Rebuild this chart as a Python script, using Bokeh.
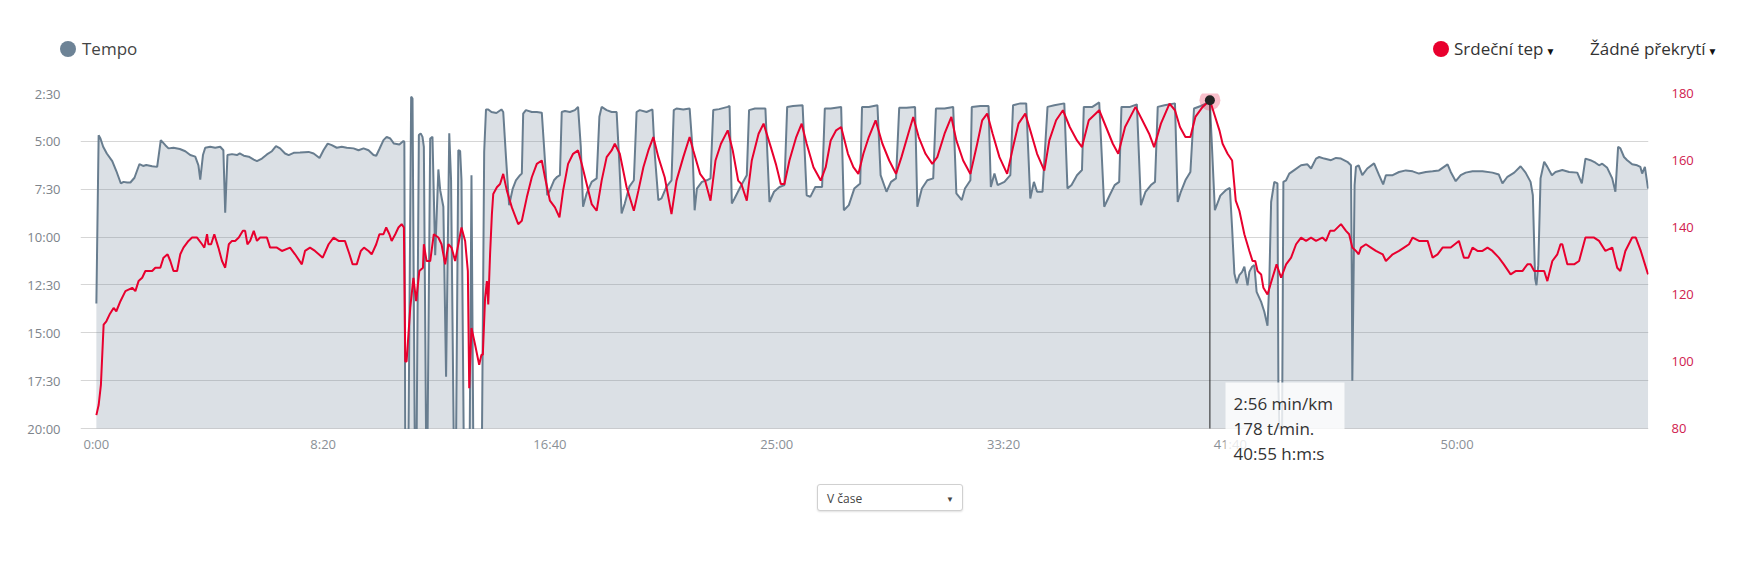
from bokeh.plotting import figure
from bokeh.layouts import column
from bokeh.models import Range1d, LinearAxis, FixedTicker, Label, Div
from bokeh.core.properties import value
from bokeh.embed import file_html
from bokeh.resources import INLINE

# ---------------- data ----------------
# pace series: elapsed time [s], pace [s per km]  (values > 1200 run off the axis)
time_s = [0, 5, 9, 15, 23, 35, 44, 54, 60, 68, 75, 84, 95, 103, 110, 123, 134, 142, 152, 159,
          170, 184, 196, 207, 218, 225, 229, 235, 240, 251, 262, 273, 280, 284, 289, 299, 310, 316,
          325, 336, 347, 354, 365, 376, 387, 396, 405, 416, 424, 435, 449, 468, 479, 492, 501, 510,
          519, 530, 541, 552, 567, 578, 589, 600, 611, 617, 624, 633, 640, 648, 656, 668, 677, 679,
          681, 686, 688, 694, 697, 702, 706, 711, 715, 719, 722, 727, 730, 736, 741, 747, 754, 758,
          765, 771, 778, 782, 788, 793, 798, 802, 805, 810, 823, 827, 831, 850, 855, 859, 864, 871,
          882, 893, 897, 903, 910, 918, 925, 934, 938, 941, 947, 960, 971, 982, 987, 994, 1000, 1009,
          1016, 1022, 1026, 1033, 1044, 1055, 1062, 1068, 1073, 1081, 1092, 1103, 1109, 1114, 1125,
          1136, 1147, 1153, 1158, 1165, 1175, 1185, 1191, 1198, 1213, 1226, 1231, 1239, 1246, 1257,
          1268, 1273, 1279, 1294, 1308, 1314, 1319, 1324, 1335, 1346, 1354, 1360, 1373, 1392, 1396,
          1401, 1407, 1422, 1434, 1439, 1452, 1475, 1484, 1494, 1506, 1517, 1523, 1536, 1557, 1566,
          1574, 1585, 1600, 1606, 1619, 1642, 1648, 1659, 1671, 1684, 1688, 1703, 1722, 1729, 1742,
          1752, 1763, 1770, 1786, 1805, 1810, 1820, 1832, 1845, 1851, 1870, 1889, 1896, 1908, 1915,
          1927, 1930, 1949, 1967, 1972, 1980, 1987, 2002, 2015, 2021, 2037, 2050, 2059, 2067, 2074,
          2086, 2097, 2112, 2134, 2141, 2150, 2162, 2173, 2177, 2196, 2211, 2222, 2234, 2245, 2255,
          2260, 2279, 2294, 2303, 2313, 2325, 2334, 2340, 2355, 2378, 2384, 2391, 2401, 2412, 2420,
          2435, 2455, 2466, 2478, 2490, 2499, 2504, 2509, 2514, 2520, 2526, 2531, 2534, 2538, 2542,
          2548, 2553, 2558, 2568, 2575, 2582, 2586, 2590, 2597, 2604, 2606, 2609, 2614, 2617, 2623,
          2630, 2641, 2656, 2670, 2678, 2689, 2696, 2707, 2722, 2733, 2744, 2758, 2766, 2768, 2769,
          2772, 2774, 2777, 2783, 2791, 2802, 2817, 2828, 2837, 2843, 2858, 2872, 2887, 2902, 2916,
          2931, 2946, 2960, 2979, 2986, 2997, 3008, 3019, 3034, 3056, 3078, 3092, 3100, 3111, 3126,
          3140, 3151, 3162, 3167, 3172, 3175, 3179, 3184, 3192, 3199, 3209, 3217, 3232, 3247, 3265,
          3275, 3283, 3294, 3305, 3313, 3320, 3331, 3342, 3349, 3355, 3360, 3368, 3375, 3386, 3397,
          3404, 3408, 3414, 3421]
pace_s = [808, 281, 291, 317, 338, 362, 393, 432, 427, 429, 429, 414, 371, 377, 374, 378, 380, 296, 312, 322,
          320, 324, 331, 343, 348, 375, 420, 343, 320, 317, 320, 317, 328, 524, 343, 340, 343, 338,
          345, 348, 357, 362, 354, 341, 331, 315, 322, 338, 343, 336, 335, 333, 338, 352, 327, 307,
          312, 320, 317, 320, 322, 328, 322, 328, 343, 345, 324, 296, 286, 291, 307, 310, 299, 302,
          1250, 1250, 1250, 160, 166, 1250, 1250, 280, 275, 286, 317, 1250, 1250, 291, 286, 657, 388, 453,
          505, 1038, 275, 422, 1250, 1250, 328, 330, 422, 1250, 1250, 406, 1250, 1250, 333, 200, 200, 208,
          211, 200, 208, 348, 500, 448, 422, 406, 401, 213, 202, 208, 208, 210, 317, 469, 453, 422,
          411, 406, 208, 205, 208, 202, 192, 317, 505, 463, 427, 416, 223, 192, 202,
          208, 208, 369, 526, 495, 442, 422, 208, 202, 208, 200, 338, 484, 479, 442,
          422, 202, 197, 200, 197, 317, 516, 448, 427, 422, 416, 202, 199, 192, 189,
          495, 479, 437, 406, 202, 197, 197, 490, 458, 443, 437, 192, 189, 187, 469,
          474, 443, 443, 197, 197, 192, 516, 500, 448, 432, 192, 192, 187, 406, 458,
          427, 416, 195, 195, 192, 505, 448, 422, 416, 197, 197, 192, 463, 484, 448,
          422, 192, 189, 189, 443, 401, 437, 427, 406, 187, 181, 181, 479, 427, 458,
          458, 192, 187, 181, 448, 437, 406, 390, 192, 192, 178, 505, 469, 437, 427,
          192, 192, 184, 500, 458, 437, 427, 192, 187, 181, 490, 458, 422, 396, 197,
          189, 176, 516, 470, 453, 446, 573, 714, 745, 719, 709, 693, 719, 751, 709,
          693, 688, 772, 803, 834, 878, 740, 490, 427, 432, 1054, 1250, 1250, 427, 422,
          401, 390, 375, 372, 385, 354, 349, 354, 359, 352, 354, 364, 375, 751, 1050,
          698, 437, 380, 375, 406, 385, 369, 406, 435, 406, 406, 396, 391, 394, 401,
          396, 394, 391, 372, 396, 425, 406, 398, 394, 394, 398, 404, 432, 411, 398,
          378, 398, 427, 469, 730, 751, 688, 416, 364, 380, 406, 396, 390, 396, 398,
          432, 354, 359, 367, 375, 370, 383, 416, 458, 317, 322, 349, 359, 372, 375,
          380, 401, 380, 448]

# heart-rate series: elapsed time [s], bpm
hr_time_s = [0, 5, 10, 16, 22, 29, 38, 44, 53, 64, 79, 86, 93, 101, 108, 123, 130, 141, 148, 157,
             163, 170, 178, 185, 192, 203, 211, 222, 233, 238, 244, 247, 253, 260, 269, 277, 284, 292,
             299, 306, 314, 323, 328, 333, 339, 347, 354, 361, 369, 376, 383, 398, 409, 427, 438, 453,
             460, 471, 482, 499, 512, 523, 534, 548, 558, 565, 574, 583, 590, 600, 607, 617, 624, 633,
             639, 646, 651, 659, 666, 673, 678, 681, 684, 692, 699, 705, 712, 720, 722, 728, 736, 744,
             754, 761, 769, 776, 783, 791, 805, 813, 819, 822, 827, 835, 844, 849, 852, 857, 861, 864,
             868, 872, 875, 883, 890, 897, 905, 916, 930, 938, 949, 960, 971, 982, 989, 1000, 1011,
             1021, 1029, 1040, 1051, 1062, 1070, 1081, 1092, 1103, 1114, 1125, 1136, 1143, 1154, 1169,
             1185, 1195, 1206, 1217, 1228, 1239, 1253, 1268, 1279, 1294, 1308, 1316, 1331, 1342, 1354,
             1365, 1377, 1392, 1403, 1415, 1422, 1434, 1445, 1460, 1471, 1487, 1498, 1509, 1517, 1528,
             1543, 1555, 1566, 1581, 1597, 1608, 1619, 1631, 1642, 1657, 1669, 1680, 1691, 1703, 1718,
             1733, 1748, 1763, 1775, 1790, 1801, 1813, 1828, 1843, 1854, 1870, 1885, 1896, 1911, 1927,
             1942, 1953, 1964, 1976, 1991, 2008, 2021, 2033, 2048, 2059, 2074, 2090, 2101, 2116, 2131,
             2146, 2162, 2173, 2188, 2211, 2226, 2241, 2253, 2268, 2291, 2306, 2321, 2332, 2347, 2366,
             2378, 2389, 2401, 2412, 2423, 2439, 2455, 2462, 2476, 2483, 2494, 2504, 2512, 2520, 2531,
             2542, 2549, 2555, 2560, 2568, 2573, 2582, 2593, 2602, 2612, 2623, 2634, 2645, 2656, 2667,
             2678, 2689, 2703, 2711, 2720, 2729, 2744, 2755, 2762, 2769, 2777, 2783, 2788, 2799, 2810,
             2821, 2836, 2843, 2858, 2872, 2883, 2894, 2902, 2916, 2935, 2946, 2957, 2968, 2986, 3004,
             3015, 3025, 3034, 3045, 3056, 3067, 3078, 3092, 3103, 3118, 3129, 3144, 3155, 3162, 3170,
             3184, 3192, 3199, 3210, 3221, 3228, 3232, 3243, 3258, 3269, 3283, 3291, 3302, 3313, 3327,
             3342, 3353, 3360, 3371, 3386, 3394, 3405, 3421]
hr_bpm = [84, 87, 93, 111, 112, 114, 116, 115, 118, 121, 122, 121, 124, 125, 127, 127, 128, 128, 131, 132,
          130, 127, 127, 132, 134, 136, 137, 137, 135, 134, 138, 135, 135, 138, 134, 130, 128, 135,
          136, 136, 137, 139, 139, 135, 136, 139, 136, 137, 137, 137, 134, 134, 133, 134, 132, 129,
          133, 134, 133, 131, 135, 137, 136, 136, 132, 129, 129, 133, 134, 133, 132, 135, 138, 138,
          140, 138, 136, 138, 140, 141, 140, 100, 100, 116, 125, 118, 127, 128, 135, 130, 130, 138,
          137, 135, 129, 135, 134, 130, 140, 136, 127, 92, 110, 105, 99, 102, 102, 119, 124, 117,
          132, 144, 150, 152, 153, 156, 151, 146, 141, 142, 149, 155, 159, 160, 155, 148, 146,
          143, 151, 159, 162, 163, 159, 153, 147, 145, 154, 161, 163, 165, 162, 152,
          145, 151, 158, 163, 167, 161, 155, 144, 154, 161, 167, 163, 156, 154, 148,
          160, 165, 169, 163, 154, 153, 148, 160, 168, 171, 164, 159, 153, 153, 160,
          167, 171, 165, 158, 154, 158, 166, 169, 170, 162, 158, 156, 162, 167, 172,
          165, 160, 156, 161, 168, 173, 167, 162, 159, 161, 168, 173, 166, 160, 156,
          165, 172, 174, 168, 161, 156, 164, 171, 174, 169, 162, 157, 166, 172, 175,
          170, 166, 164, 172, 175, 170, 165, 162, 170, 176, 172, 168, 164, 171, 177,
          175, 170, 167, 167, 173, 176, 178, 175, 169, 165, 162, 160, 148, 145, 138,
          133, 130, 130, 127, 126, 122, 120, 125, 129, 125, 129, 131, 135, 137, 136,
          137, 136, 137, 136, 139, 139, 141, 139, 138, 134, 133, 132, 134, 135, 134,
          133, 132, 130, 132, 133, 134, 135, 137, 136, 136, 131, 132, 134, 134, 136,
          131, 131, 134, 133, 133, 134, 133, 131, 129, 126, 127, 127, 129, 129, 127,
          127, 127, 124, 130, 132, 135, 135, 129, 129, 130, 137, 137, 137, 136, 133,
          134, 128, 127, 133, 137, 137, 133, 126]

pace_ticks = [150, 300, 450, 600, 750, 900, 1050, 1200]
pace_labels = ["2:30", "5:00", "7:30", "10:00", "12:30", "15:00", "17:30", "20:00"]
hr_ticks = [80, 100, 120, 140, 160, 180]
time_ticks = [0, 500, 1000, 1500, 2000, 2500, 3000]
time_labels = ["0:00", "8:20", "16:40", "25:00", "33:20", "41:40", "50:00"]

series_names = ["Tempo", "Srdeční tep"]
overlay_name = "Žádné překrytí"
mode_name = "V čase"

tip_time = 2455
tip_pace = 176
tip_hr = 178
tip_lines = ["2:56 min/km", "178 t/min.", "40:55 h:m:s"]

# ---------------- layout ----------------
PACE_COLOR = "#687d8f"
FILL_COLOR = "#6f8499"
HR_COLOR = "#e8002e"
FONT = "Open Sans"

W = 1736
HEAD_H, FIG_H, FOOT_H = 60, 410, 60
FRAME_L, FRAME_R, FRAME_T = 80, 1648, 93     # page pixels
AXIS_B = 428                                  # page pixel row of the 20:00 / 80 line
FRAME_B = HEAD_H + FIG_H                      # frame runs a bit lower to hold tick texts
X0, X1 = -35, 3422
Y_TOP, Y_BOT = pace_ticks[0], pace_ticks[-1]
PX_PER_S = (AXIS_B - FRAME_T) / (Y_BOT - Y_TOP)


def tx(sx):
    return X0 + (sx - FRAME_L) * (X1 - X0) / (FRAME_R - FRAME_L)


def py(sy):
    return Y_TOP + (sy - FRAME_T) / PX_PER_S


def hy(sy):
    return hr_ticks[-1] - (sy - FRAME_T) * (hr_ticks[-1] - hr_ticks[0]) / (AXIS_B - FRAME_T)


p = figure(width=W, height=FIG_H, output_backend="svg", toolbar_location=None,
           x_range=Range1d(X0, X1), y_range=Range1d(py(FRAME_B), Y_TOP),
           x_axis_location=None,
           min_border_left=FRAME_L, min_border_right=W - FRAME_R,
           min_border_top=FRAME_T - HEAD_H, min_border_bottom=0,
           outline_line_color=None, background_fill_color="white",
           border_fill_color="white", margin=0)
p.extra_y_ranges = {"hr": Range1d(hy(FRAME_B), hr_ticks[-1])}

left = p.yaxis[0]
left.ticker = FixedTicker(ticks=pace_ticks)
left.major_label_overrides = {t: l for t, l in zip(pace_ticks, pace_labels)}
left.major_label_standoff = 14

right = LinearAxis(y_range_name="hr", ticker=FixedTicker(ticks=hr_ticks))
right.major_label_standoff = 17
p.add_layout(right, "right")

for ax, col in ((left, "#7d848b"), (right, "#d0204e")):
    ax.axis_line_color = None
    ax.major_tick_line_color = None
    ax.minor_tick_line_color = None
    ax.major_label_text_font = FONT
    ax.major_label_text_font_size = "13px"
    ax.major_label_text_color = col

p.xgrid.visible = False
p.ygrid.ticker = FixedTicker(ticks=pace_ticks)
p.ygrid.grid_line_color = "#d6d6d6"
p.ygrid.grid_line_width = 1

# series
p.varea(x=time_s, y1=pace_s, y2=[Y_BOT] * len(time_s), fill_color=FILL_COLOR, fill_alpha=0.25)
p.line(time_s, pace_s, line_color=PACE_COLOR, line_width=2)
p.line(hr_time_s, hr_bpm, y_range_name="hr", line_color=HR_COLOR, line_width=2)

# everything below the 20:00 floor is cut off (as the chart clips its plot area)
p.quad(left=[X0], right=[X1], top=[py(AXIS_B + 0.6)], bottom=[py(FRAME_B)],
       fill_color="white", line_color=None)

# time tick labels under the 20:00 line
p.text(x=time_ticks, y=[py(443)] * len(time_ticks), text=time_labels,
       text_font=value(FONT), text_font_size="13px", text_color="#8a9096",
       text_align="center", text_baseline="middle")

# hover state
p.segment(x0=[tip_time], y0=[tip_pace], x1=[tip_time], y1=[Y_BOT], line_color="#222222", line_width=1)
p.scatter([tip_time], [tip_hr], y_range_name="hr", size=21, fill_color=HR_COLOR, fill_alpha=0.25,
          line_color=None)
p.scatter([tip_time], [tip_hr], y_range_name="hr", size=10, fill_color="#222222", line_color=None)
p.quad(left=[tx(1225)], right=[tx(1344)], top=[py(382)], bottom=[py(466)],
       fill_color="white", fill_alpha=0.8, line_color=None)
for i, line in enumerate(tip_lines):
    p.add_layout(Label(x=tx(1233), y=py(403 + 25 * i), text=line, text_font=FONT,
                       text_font_size="17px", text_color="#333333",
                       text_baseline="middle", text_align="left"))

# header legend (HTML)
def dot(cx, color):
    return ('<span style="position:absolute;left:%dpx;top:41px;width:16px;height:16px;'
            'border-radius:50%%;background:%s;"></span>' % (cx - 8, color))


def txt(x, s, color):
    return ('<span style="position:absolute;left:%dpx;top:36px;line-height:26px;font-size:17px;'
            'color:%s;white-space:nowrap;">%s'
            '</span>' % (x, color, s))


arrow = '<span style="font-size:10px;margin-left:2px;color:#111;">&#9660;</span>'
head_html = ('<div style="position:relative;width:%dpx;height:%dpx;font-family:\'Open Sans\';">'
             % (W, HEAD_H)
             + dot(68, "#6d8396") + txt(82, series_names[0], "#444444")
             + dot(1441, HR_COLOR) + txt(1454, series_names[1] + arrow, "#333333")
             + txt(1590, overlay_name + arrow, "#333333")
             + '</div>')
header = Div(text=head_html, width=W, height=HEAD_H, margin=0)

foot_html = ('<div style="position:relative;width:%dpx;height:%dpx;font-family:\'Open Sans\';">'
             '<div style="position:absolute;left:817px;top:14px;width:146px;height:27px;'
             'border:1px solid #d0d0d0;border-radius:3px;background:#fff;'
             'box-shadow:0 1px 2px rgba(0,0,0,0.12);">'
             '<span style="position:absolute;left:9px;top:0;line-height:27px;font-size:12px;'
             'color:#444;">%s</span>'
             '<span style="position:absolute;right:8px;top:0;line-height:27px;font-size:8px;'
             'color:#444;">&#9660;</span>'
             '</div></div>') % (W, FOOT_H, mode_name)
footer = Div(text=foot_html, width=W, height=FOOT_H, margin=0)

layout = column(header, p, footer, spacing=0)
open("out.html", "w").write(file_html(layout, INLINE))
